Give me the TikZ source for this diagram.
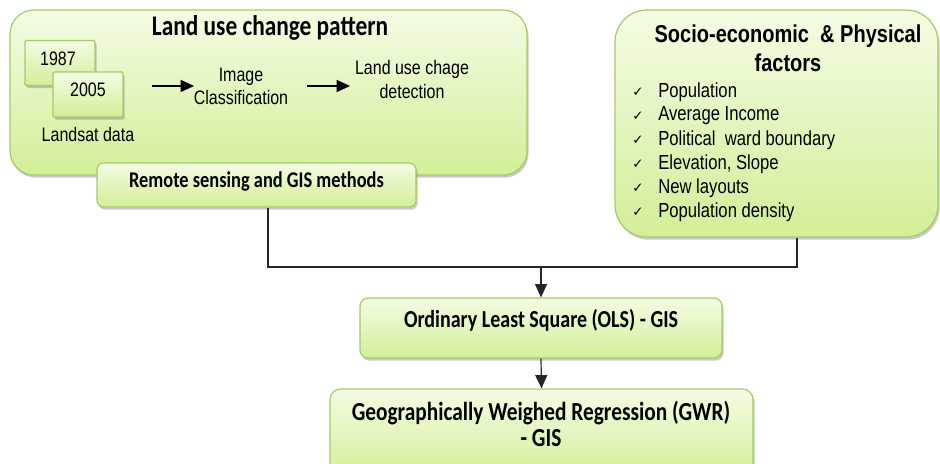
\documentclass[tikz,border=0pt]{standalone}
\usepackage{fontspec}
\usepackage{graphicx}
\setmainfont{Liberation Sans}
\newfontfamily\calfont{Carlito}
\newfontfamily\dvfont{DejaVu Sans}
\usetikzlibrary{shadows,arrows.meta}
\definecolor{gtop}{HTML}{F4FCE4}
\definecolor{gbot}{HTML}{D2EF98}
\definecolor{gline}{HTML}{A3CC66}
\newcommand\Ys[1]{\scalebox{1}[1.22]{\begin{tabular}{@{}c@{}}#1\end{tabular}}}
\newcommand\Yl[1]{\scalebox{1}[1.22]{#1}}
\begin{document}
\begin{tikzpicture}[x=0.75pt,y=-0.75pt,
  gbox/.style={draw=gline, line width=0.9pt, top color=gtop, bottom color=gbot,
    drop shadow={shadow xshift=1.2pt,shadow yshift=-2pt,opacity=0.35,fill=black!60},
    inner sep=0pt},
  arr/.style={-{Triangle[length=10pt,width=9pt]}, line width=1.1pt},
  conn/.style={line width=0.9pt, black!85},
  txt/.style={font=\fontsize{12}{14.1}\selectfont, align=center, inner sep=0pt},
  item/.style={font=\fontsize{12.5}{15}\selectfont, anchor=west, inner sep=0pt},
  chk/.style={font=\dvfont\fontsize{10}{11}\selectfont, inner sep=0pt},
  btitle/.style={font=\calfont\bfseries\fontsize{#1}{#1}\selectfont, align=center, inner sep=0pt}]
\useasboundingbox (0,0) rectangle (940,464);
\clip (0,0) rectangle (940,464);

% boxes
\node[gbox, rounded corners=18pt, minimum width=387.75pt, minimum height=123.75pt] (land) at (268.5,92.5) {};
\node[gbox, rounded corners=1pt, minimum width=52.5pt, minimum height=33.75pt] (b87) at (60,63) {};
\node[gbox, rounded corners=1pt, minimum width=52.5pt, minimum height=33.75pt] (b05) at (88,94.5) {};
\node[gbox, rounded corners=5pt, minimum width=239.25pt, minimum height=33pt] (rs) at (256.5,185) {};
\node[gbox, rounded corners=24pt, minimum width=242.25pt, minimum height=170.25pt] (sf) at (776.5,123.5) {};
\node[gbox, rounded corners=6pt, minimum width=271.5pt, minimum height=45pt] (ols) at (541,328) {};
\node[gbox, rounded corners=8pt, minimum width=317.25pt, minimum height=67.5pt] (gwr) at (541.5,434) {};

% texts
\node[btitle=17.5] (landt) at (270,28) {\Yl{Land use change pattern}};
\node[txt] (t87) at (58,61) {\Ys{1987}};
\node[txt] (t05) at (88,92) {\Ys{2005}};
\node[txt] (tls) at (88,137) {\Ys{Landsat data}};
\node[txt] (tic) at (241,88.5) {\Ys{Image\\Classification}};
\node[txt, font=\fontsize{12}{14.75}\selectfont] (tld) at (412,82) {\Ys{Land use chage\\detection}};
\node[btitle=13.8] (rst) at (256.5,182) {\Yl{Remote sensing and GIS methods}};
\node[font=\bfseries\fontsize{15}{18.4}\selectfont, align=center, inner sep=0pt] (sft) at (788,51) {\Ys{Socio-economic\ \ \& Physical\\factors}};
\foreach \y/\t [count=\i] in {92/Population,116/Average Income,140/Political\ \ ward boundary,164/{Elevation, Slope},188/New layouts,212/Population density}{
  \node[chk] (c\i) at (638,\y) {✓};
  \node[item] (it\i) at (658,\y) {\Yl{\t}};
}
\node[btitle=15] (olst) at (541,320) {\Yl{Ordinary Least Square (OLS) - GIS}};
\node[font=\calfont\bfseries\fontsize{16}{16}\selectfont, align=center, inner sep=0pt] (gwrt) at (541,428) {\Ys{Geographically Weighed Regression (GWR)\\- GIS}};

% arrows inside land box
\coordinate (a1s) at (152,86); \coordinate (a1e) at (194,86);
\coordinate (a2s) at (307,86); \coordinate (a2e) at (350,86);
\draw[arr] (a1s) -- (a1e);
\draw[arr] (a2s) -- (a2e);

% connectors
\coordinate (c1) at (268,267);
\coordinate (c2) at (797,267);
\coordinate (j) at (541,267);
\draw[conn] (rs.south -| c1) -- (c1) -- (c2) -- (sf.south -| c2);
\draw[conn, arr, line width=0.9pt] (j) -- (ols.north);
\draw[conn, arr, line width=0.9pt] (ols.south) -- (gwr.north);
\end{tikzpicture}
\end{document}
